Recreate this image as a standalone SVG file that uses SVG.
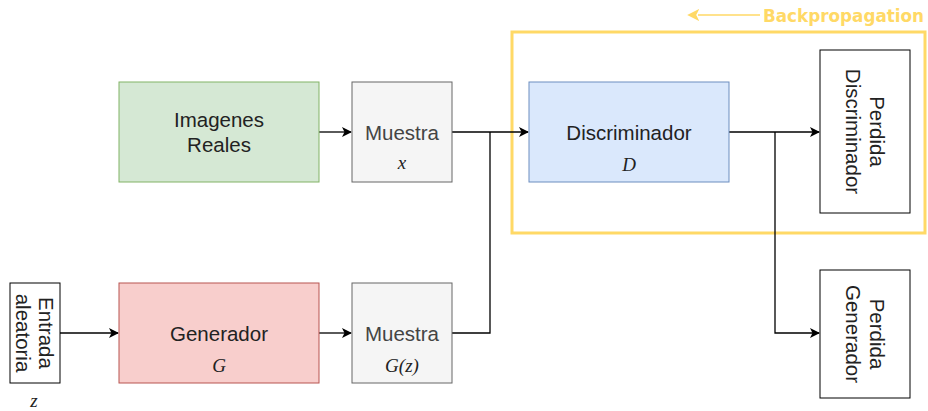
<svg xmlns="http://www.w3.org/2000/svg" width="928" height="411" viewBox="0 0 928 411">
<defs>
<style>
.lbl{font-family:"Liberation Sans",Arial,sans-serif;font-size:20.5px;fill:#222;text-anchor:middle}
.mth{font-family:"Liberation Serif","Times New Roman",serif;font-size:19px;font-style:italic;fill:#222;text-anchor:middle}
.edge{fill:none;stroke:#000;stroke-width:1.3}
</style>
<marker id="ah" viewBox="0 0 10 10" refX="9" refY="5" markerWidth="10" markerHeight="10" markerUnits="userSpaceOnUse" orient="auto">
<path d="M0,0 L10,5 L0,10 L2.5,5 Z" fill="#000"/>
</marker>
<marker id="ahy" viewBox="0 0 10 10" refX="1" refY="5" markerWidth="12" markerHeight="12" markerUnits="userSpaceOnUse" orient="auto-start-reverse">
<path d="M0,0 L10,5 L0,10 L2.5,5 Z" fill="#FFD966"/>
</marker>
</defs>
<rect width="928" height="411" fill="#fff"/>
<g id="backprop">
<rect x="512" y="32" width="413" height="201" fill="none" stroke="#FFD966" stroke-width="3"/>
<line x1="698" y1="15" x2="760" y2="15" stroke="#FFD966" stroke-width="1.5" marker-start="url(#ahy)"/>
<text x="763" y="22" font-family="'DejaVu Sans Condensed','Liberation Sans Narrow',sans-serif" font-stretch="condensed" font-weight="bold" font-size="18" fill="#FFD966" textLength="161" lengthAdjust="spacingAndGlyphs">Backpropagation</text>
</g>
<g id="connectors">
<path class="edge" d="M319,132 H351" marker-end="url(#ah)"/>
<path class="edge" d="M452,132 H528" marker-end="url(#ah)"/>
<path class="edge" d="M452,333 H490 V132"/>
<path class="edge" d="M60,333 H118" marker-end="url(#ah)"/>
<path class="edge" d="M319,333 H351" marker-end="url(#ah)"/>
<path class="edge" d="M729,132 H819" marker-end="url(#ah)"/>
<path class="edge" d="M775,132 V333 H819" marker-end="url(#ah)"/>
</g>
<g id="imagenes">
<rect x="119" y="82" width="200" height="100" fill="#d5e8d4" stroke="#82b366"/>
<text class="lbl" x="219" y="127">Imagenes</text>
<text class="lbl" x="219" y="152">Reales</text>
</g>
<g id="muestra-x">
<rect x="352" y="82" width="100" height="100" fill="#f5f5f5" stroke="#666"/>
<text class="lbl" x="402" y="140" style="fill:#444">Muestra</text>
<text class="mth" x="402" y="169">x</text>
</g>
<g id="discriminador">
<rect x="529" y="82" width="200" height="100" fill="#dae8fc" stroke="#6c8ebf"/>
<text class="lbl" x="629" y="140">Discriminador</text>
<text class="mth" x="629" y="171">D</text>
</g>
<g id="perdida-d">
<rect x="820" y="50" width="90" height="163" fill="#fff" stroke="#000"/>
<text class="lbl" transform="translate(865,131.5) rotate(90)"><tspan x="0" y="-5">Perdida</tspan><tspan x="0" y="19">Discriminador</tspan></text>
</g>
<g id="perdida-g">
<rect x="820" y="270" width="90" height="128" fill="#fff" stroke="#000"/>
<text class="lbl" transform="translate(865,334) rotate(90)"><tspan x="0" y="-5">Perdida</tspan><tspan x="0" y="19">Generador</tspan></text>
</g>
<g id="entrada">
<rect x="10" y="283" width="50" height="100" fill="#fff" stroke="#000"/>
<text class="lbl" transform="translate(35,333) rotate(90)"><tspan x="0" y="-4">Entrada</tspan><tspan x="0" y="19">aleatoria</tspan></text>
<text class="mth" x="34" y="407">z</text>
</g>
<g id="generador">
<rect x="119" y="283" width="200" height="100" fill="#f8cecc" stroke="#b85450"/>
<text class="lbl" x="219" y="341">Generador</text>
<text class="mth" x="219" y="372">G</text>
</g>
<g id="muestra-gz">
<rect x="352" y="283" width="100" height="100" fill="#f5f5f5" stroke="#666"/>
<text class="lbl" x="402" y="341" style="fill:#444">Muestra</text>
<text class="mth" x="402" y="372">G(z)</text>
</g>
</svg>
